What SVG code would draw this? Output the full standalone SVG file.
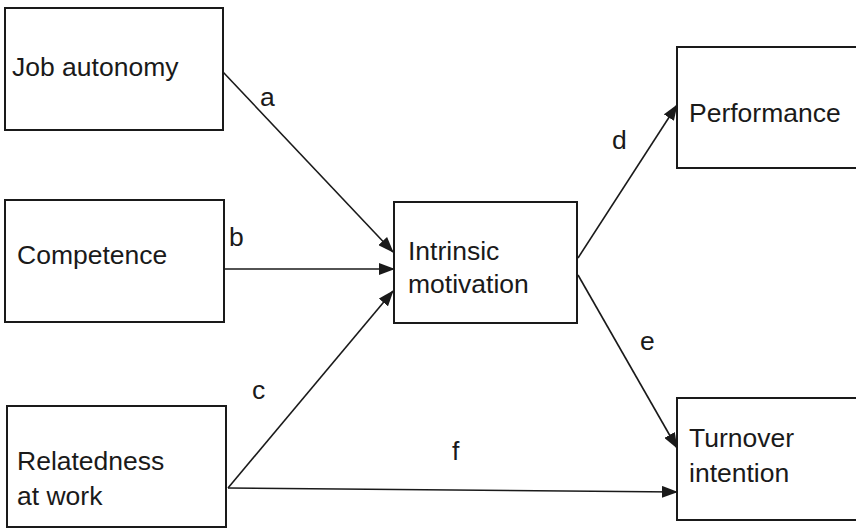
<svg xmlns="http://www.w3.org/2000/svg" width="856" height="530" viewBox="0 0 856 530">
<style>
.box{fill:#fff;stroke:#1a1a1a;stroke-width:2}
.t{font-family:"Liberation Sans",Arial,sans-serif;font-size:26.5px;fill:#1a1a1a}
.c{stroke:#1a1a1a;stroke-width:1.6;fill:none;marker-end:url(#ah)}
</style>
<defs>
<marker id="ah" viewBox="0 0 16 12" refX="15" refY="6" markerWidth="16" markerHeight="12" markerUnits="userSpaceOnUse" orient="auto">
<path d="M0,0 L16,6 L0,12 Z" fill="#1a1a1a"/>
</marker>
</defs>
<rect width="856" height="530" fill="#fff"/>
<g id="job-autonomy"><rect class="box" x="5" y="8" width="218" height="122"/><text class="t" x="12" y="76">Job autonomy</text></g>
<g id="competence"><rect class="box" x="5" y="200" width="219" height="122"/><text class="t" x="17" y="264">Competence</text></g>
<g id="relatedness"><rect class="box" x="7" y="406" width="219" height="121"/><text class="t" x="17" y="470">Relatedness</text><text class="t" x="17" y="505">at work</text></g>
<g id="intrinsic-motivation"><rect class="box" x="394" y="202" width="183" height="121"/><text class="t" x="408" y="260">Intrinsic</text><text class="t" x="408" y="293">motivation</text></g>
<g id="performance"><rect class="box" x="677" y="47" width="185" height="121"/><text class="t" x="689" y="122">Performance</text></g>
<g id="turnover-intention"><rect class="box" x="677" y="398" width="185" height="122"/><text class="t" x="689" y="447">Turnover</text><text class="t" x="689" y="482">intention</text></g>
<g id="connectors">
<line class="c" x1="223" y1="72" x2="393" y2="252"/>
<line class="c" x1="224" y1="269" x2="394" y2="269"/>
<line class="c" x1="228" y1="488" x2="393" y2="291"/>
<line class="c" x1="578" y1="258" x2="677" y2="105"/>
<line class="c" x1="578" y1="275" x2="677" y2="448"/>
<line class="c" x1="228" y1="488" x2="677" y2="492"/>
<text class="t" x="260" y="106">a</text>
<text class="t" x="229" y="246">b</text>
<text class="t" x="252" y="399">c</text>
<text class="t" x="612" y="149">d</text>
<text class="t" x="640" y="350">e</text>
<text class="t" x="452" y="460">f</text>
</g>
</svg>
